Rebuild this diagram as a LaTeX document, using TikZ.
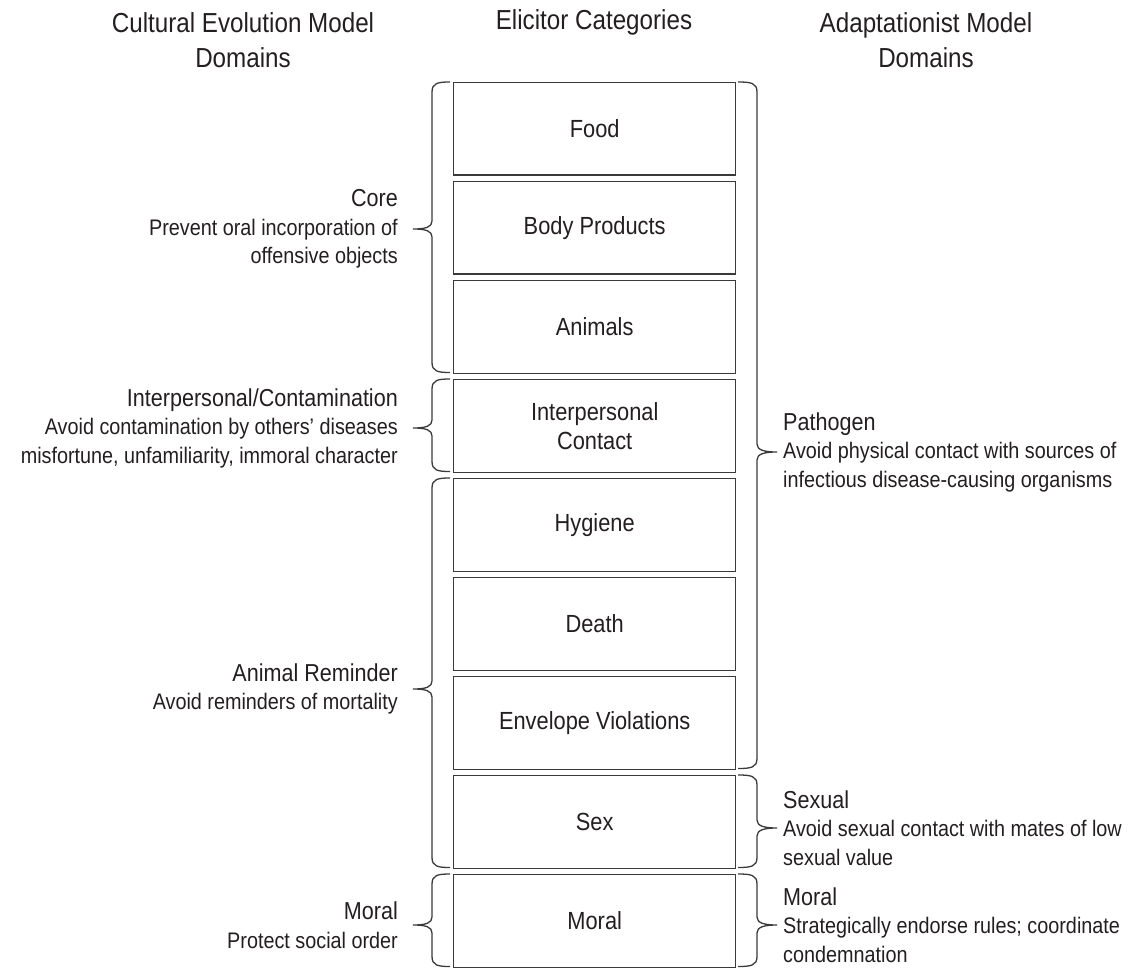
\documentclass[tikz,border=0pt]{standalone}
\usepackage{fontspec}
\setmainfont{Liberation Sans}[FakeStretch=0.88]
\newcommand\titlefont{\fontsize{27.5}{35}\selectfont}
\newcommand\boxfont{\fontsize{24.8}{29}\selectfont}
\newcommand\headfont{\fontsize{24.5}{29}\selectfont}
\newcommand\descfont{\fontsize{22.5}{28.5}\selectfont}
\definecolor{ink}{HTML}{231F20}
\definecolor{linec}{HTML}{3A3A3A}
\newcommand\leftbr[3]{%
  \draw[bracepath] (450,#1) .. controls (438,#1) and (432,{#1+1}) .. (432,{#1+10})
    -- (432,{#3-8}) .. controls (432,{#3-2}) and (426,#3) .. (413,#3)
    .. controls (426,#3) and (432,{#3+2}) .. (432,{#3+8})
    -- (432,{#2-10}) .. controls (432,{#2-1}) and (438,#2) .. (450,#2);}
\newcommand\rightbr[3]{%
  \draw[bracepath] (738,#1) .. controls (751,#1) and (757,{#1+1}) .. (757,{#1+10})
    -- (757,{#3-8}) .. controls (757,{#3-2}) and (764,#3) .. (777,#3)
    .. controls (764,#3) and (757,{#3+2}) .. (757,{#3+8})
    -- (757,{#2-10}) .. controls (757,{#2-1}) and (751,#2) .. (738,#2);}
\tikzset{
  catbox/.style={draw=linec, line width=1.4pt, minimum width=282pt, minimum height=92.5pt,
    anchor=north west, inner sep=0pt, font=\boxfont, text=ink, align=center},
  bracepath/.style={draw=linec, line width=1.3pt},
  leftlab/.style={anchor=east, align=right, inner sep=0pt, font=\descfont, text=ink},
  rightlab/.style={anchor=west, align=left, inner sep=0pt, font=\descfont, text=ink},
  titlelab/.style={align=center, inner sep=0pt, font=\titlefont, text=ink}
}
\begin{document}
\begin{tikzpicture}[x=1pt,y=-1pt]
\useasboundingbox (0,0) rectangle (1138,968);
% titles
\node[titlelab] (t1) at (243,40) {Cultural Evolution Model\\Domains};
\node[titlelab] (t2) at (594,22) {Elicitor Categories};
\node[titlelab] (t3) at (926,40) {Adaptationist Model\\Domains};
% boxes
\node[catbox] (food) at (453,82) {Food};
\node[catbox] (body) at (453,181) {Body Products};
\node[catbox] (anim) at (453,280) {Animals};
\node[catbox] (inter) at (453,379) {Interpersonal\\Contact};
\node[catbox] (hyg) at (453,478) {Hygiene};
\node[catbox] (death) at (453,577) {Death};
\node[catbox] (env) at (453,676) {Envelope Violations};
\node[catbox] (sex) at (453,775) {Sex};
\node[catbox] (moral) at (453,874) {Moral};
% left braces
\leftbr{82}{372.5}{229}
\leftbr{379}{471.5}{428}
\leftbr{478}{867.5}{689}
\leftbr{874}{966.5}{925}
% right braces
\rightbr{82}{768.5}{452}
\rightbr{775}{867.5}{828}
\rightbr{874}{966.5}{925}
% left labels
\node[leftlab] (lcore) at (398,229) {{\headfont Core}\\Prevent oral incorporation of\\offensive objects};
\node[leftlab] (linter) at (398,428) {{\headfont Interpersonal/Contamination}\\Avoid contamination by others’ diseases\\misfortune, unfamiliarity, immoral character};
\node[leftlab] (lanim) at (398,689) {{\headfont Animal Reminder}\\Avoid reminders of mortality};
\node[leftlab] (lmoral) at (398,925) {{\headfont Moral}\\Protect social order};
% right labels
\node[rightlab] (rpath) at (783,452) {{\headfont Pathogen}\\Avoid physical contact with sources of\\infectious disease-causing organisms};
\node[rightlab] (rsex) at (783,828) {{\headfont Sexual}\\Avoid sexual contact with mates of low\\sexual value};
\node[rightlab] (rmoral) at (783,925) {{\headfont Moral}\\Strategically endorse rules; coordinate\\condemnation};
\end{tikzpicture}
\end{document}
